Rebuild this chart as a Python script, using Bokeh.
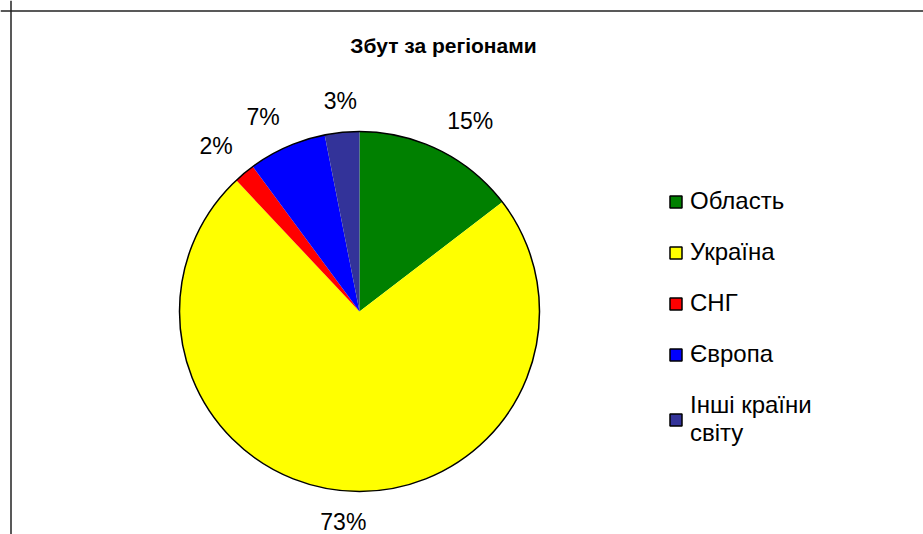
import math
import numpy as np
from bokeh.plotting import figure
from bokeh.models import ColumnDataSource, Span, Label, Legend, LegendItem, Range1d
from bokeh.embed import file_html
from bokeh.resources import INLINE
from bokeh.core.properties import value

# ---- data ----
title_text = "Збут за регіонами"
categories = ["Область", "Україна", "СНГ", "Європа", "Інші країни\nсвіту"]
shares = [14.6, 73.4, 1.9, 7.0, 3.1]
colors = ["#008000", "#FFFF00", "#FF0000", "#0000FF", "#333399"]

# ---- layout ----
W, H = 923, 534
FONT = "Liberation Sans"
cx, cy, R = 359, 223, 180

p = figure(width=W, height=H, x_range=Range1d(0, W), y_range=Range1d(0, H),
           output_backend="svg", toolbar_location=None, min_border=0)
p.axis.visible = False
p.grid.visible = False
p.outline_line_color = None
p.background_fill_color = "white"
p.border_fill_color = "white"

# chart frame (top and left edges visible; the rest runs off the page)
p.add_layout(Span(location=10.5, dimension="height", line_color="#222222", line_width=1.5))
p.add_layout(Span(location=523.5, dimension="width", line_color="#222222", line_width=1.5))

fr = np.array(shares, dtype=float) / sum(shares)
cum_end = np.cumsum(fr)
cum_start = cum_end - fr
start = math.pi / 2 - cum_start * 2 * math.pi
end = math.pi / 2 - cum_end * 2 * math.pi
mid = (start + end) / 2

src = ColumnDataSource(dict(cat=categories, share=shares, color=colors,
                            start=start, end=end))
p.wedge(x=cx, y=cy, radius=R, start_angle="start", end_angle="end",
        direction="clock", fill_color="color", line_color=None, source=src)
p.circle(x=[cx], y=[cy], radius=R, fill_color=None, line_color="black", line_width=1.5)

# percentage labels
lr = 1.1 * R
lx = cx + lr * np.cos(mid)
ly = cy + lr * np.sin(mid)
aligns = ["left" if c > 0.3 else ("right" if c < -0.3 else "center") for c in np.cos(mid)]
bases = ["bottom" if s > 0.3 else ("top" if s < -0.3 else "middle") for s in np.sin(mid)]
txt = [f"{round(v * 100)}%" for v in fr]
lsrc = ColumnDataSource(dict(x=lx, y=ly, t=txt, a=aligns, b=bases))
p.text(x="x", y="y", text="t", text_align="a", text_baseline="b", source=lsrc,
       text_font=value(FONT), text_font_size="23px", text_color="black")

# title
p.add_layout(Label(x=443, y=489, text=title_text, text_align="center", text_baseline="middle",
                   text_font=FONT, text_font_size="21px", text_font_style="bold",
                   text_color="black"))

# legend (proxy squares with black borders)
nan = float("nan")
psrc = ColumnDataSource(dict(x=[nan] * len(categories), y=[nan] * len(categories),
                             color=colors))
proxy = p.rect(x="x", y="y", width=1, height=1, fill_color="color", line_color="black",
               line_width=1.5, source=psrc)
items = [LegendItem(label=c, renderers=[proxy], index=i) for i, c in enumerate(categories)]
legend = Legend(items=items, location=(668, 87), glyph_width=15, glyph_height=15,
                label_standoff=7, spacing=23, padding=0, margin=0,
                border_line_color=None, background_fill_alpha=0,
                label_text_font=FONT, label_text_font_size="24px",
                label_text_color="black")
p.add_layout(legend)

open("out.html", "w").write(file_html(p, INLINE))
